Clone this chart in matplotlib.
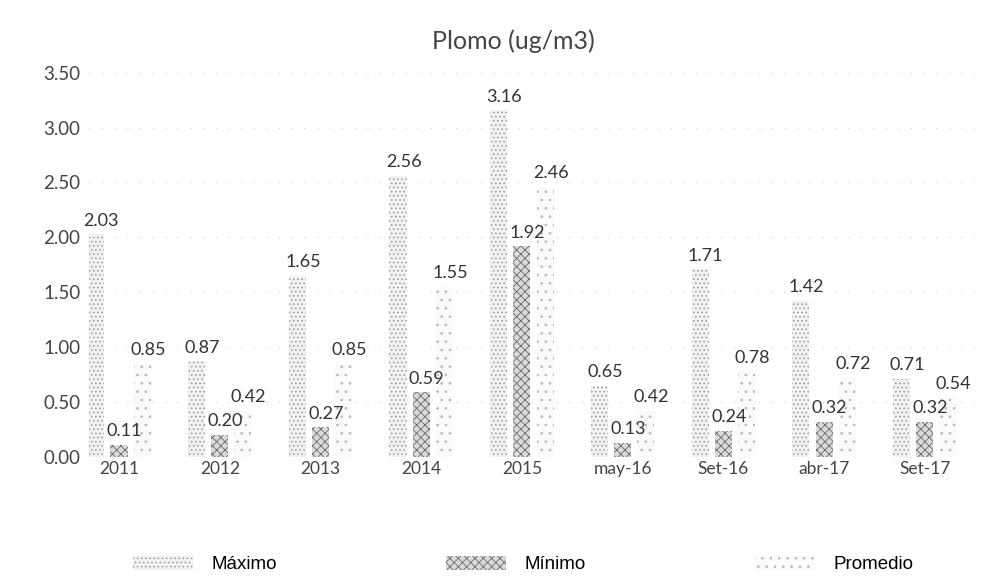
import numpy as np
import matplotlib
matplotlib.use("Agg")
import matplotlib.pyplot as plt

# ── Data ──────────────────────────────────────────────────────────────────
categories = ["2011", "2012", "2013", "2014", "2015", "may-16", "Set-16", "abr-17", "Set-17"]
maximo     = [2.03, 0.87, 1.65, 2.56, 3.16, 0.65, 1.71, 1.42, 0.71]
minimo     = [0.11, 0.20, 0.27, 0.59, 1.92, 0.13, 0.24, 0.32, 0.32]
promedio   = [0.85, 0.42, 0.85, 1.55, 2.46, 0.42, 0.78, 0.72, 0.54]
y_ticks    = [0.0, 0.5, 1.0, 1.5, 2.0, 2.5, 3.0, 3.5]

# ── Style ─────────────────────────────────────────────────────────────────
plt.rcParams["font.family"] = ["Lato", "DejaVu Sans"]
plt.rcParams["hatch.linewidth"] = 0.6

SERIES = [
    ("Máximo",   maximo,   "#f1f1f1", "#9a9a9a", "...."),
    ("Mínimo",   minimo,   "#dadada", "#6a6a6a", "xxxx"),
    ("Promedio", promedio, "#fafafa", "#b5b5b5", ".."),
]
OFFSETS = [-0.23, 0.0, 0.23]
WIDTH   = 0.17

fig = plt.figure(figsize=(9.87, 5.82), dpi=100)
ax = fig.add_axes([0.09, 0.215, 0.898, 0.66])

x = np.arange(len(categories))
handles = []
for (name, vals, face, hatch_col, hatch), off in zip(SERIES, OFFSETS):
    bars = ax.bar(x + off, vals, width=WIDTH, color=face, edgecolor=hatch_col,
                  hatch=hatch, linewidth=0, zorder=3, label=name)
    handles.append(bars)
    for bx, v in zip(x + off, vals):
        ax.annotate(f"{v:.2f}", (bx, v), xytext=(4, 4), textcoords="offset points",
                    ha="center", va="bottom", fontsize=13, color="#333333",
                    zorder=4, annotation_clip=False)

ax.set_xlim(-0.3, 8.5)
ax.set_ylim(0, 3.5)
ax.set_yticks(y_ticks)
ax.set_yticklabels([f"{v:.2f}" for v in y_ticks])
ax.set_xticks(x)
ax.set_xticklabels(categories)
ax.tick_params(axis="both", length=0, colors="#444444")
ax.tick_params(axis="x", pad=3, labelsize=12.5)
ax.tick_params(axis="y", pad=6, labelsize=13.5)
for s in ax.spines.values():
    s.set_visible(False)
ax.yaxis.grid(True, color="#c8c8c8", linewidth=0.7, linestyle=(0, (1, 12)), zorder=0)
ax.set_axisbelow(True)

fig.text(0.52, 0.93, "Plomo (ug/m3)", ha="center", va="center",
         fontsize=18, color="#444444")

fig.legend(handles=handles, loc="center", bbox_to_anchor=(0.53, 0.03), ncol=3,
           frameon=False, handlelength=3.2, handleheight=0.8,
           columnspacing=9, handletextpad=1.0,
           prop={"family": ["Liberation Sans", "DejaVu Sans"], "size": 13.5})

fig.savefig("out.png", dpi=100)
